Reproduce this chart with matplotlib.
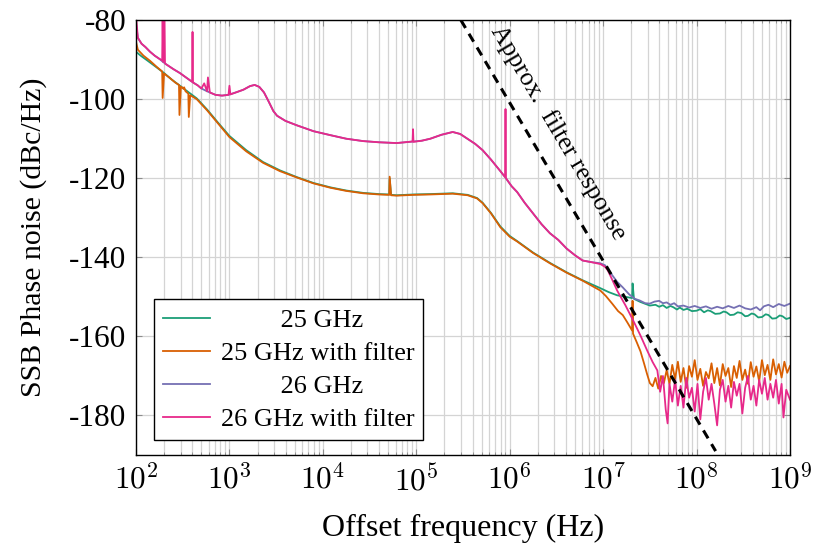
import numpy as np
import matplotlib.pyplot as plt
from matplotlib.ticker import FixedLocator, LogLocator, NullFormatter

plt.rcParams['font.family'] = ['Liberation Serif', 'DejaVu Serif']
plt.rcParams['mathtext.fontset'] = 'cm'
plt.rcParams['axes.unicode_minus'] = False

# offset frequency given as log10(Hz), phase noise in dBc/Hz
f25_exp = [2.00, 2.05, 2.12, 2.20, 2.29, 2.38, 2.47, 2.56, 2.65, 2.76, 2.88, 3.00,
           3.18, 3.36, 3.54, 3.72, 3.90, 4.08, 4.25, 4.43, 4.60, 4.71, 4.715, 4.73,
           4.79, 4.97, 5.15, 5.39, 5.55, 5.65, 5.71, 5.80, 5.90, 6.00, 6.08, 6.25,
           6.43, 6.61, 6.78, 6.97, 7.06, 7.15, 7.31, 7.315, 7.33, 7.40, 7.50, 7.56,
           7.60, 7.64, 7.68, 7.72, 7.75, 7.79, 7.82, 7.86, 7.90, 7.95, 8.00, 8.04,
           8.08, 8.12, 8.15, 8.20, 8.25, 8.29, 8.32, 8.36, 8.40, 8.44, 8.48, 8.52,
           8.55, 8.59, 8.62, 8.66, 8.70, 8.74, 8.77, 8.81, 8.85, 8.89, 8.92, 8.96, 9.00]
pn25 = [-88.0, -89.0, -90.2, -91.6, -93.2, -95.0, -96.6, -98.2, -99.8, -102.6, -106.0, -109.3,
        -112.9, -115.9, -118.0, -119.7, -121.2, -122.3, -123.1, -123.7, -124.0, -124.1, -120.0, -124.2,
        -124.3, -124.1, -124.0, -123.8, -124.2, -125.0, -126.2, -128.8, -132.2, -134.6, -135.9, -138.8,
        -141.4, -143.8, -145.8, -147.8, -148.8, -149.6, -150.3, -146.6, -150.5, -151.3, -152.2, -152.0,
        -152.5, -152.1, -152.8, -152.3, -152.6, -153.2, -152.7, -153.3, -153.0, -153.6, -153.5, -153.1,
        -153.9, -153.4, -153.6, -154.3, -154.2, -153.7, -153.9, -154.6, -154.5, -153.9, -154.1, -154.9,
        -154.8, -154.2, -154.4, -155.2, -155.1, -154.4, -154.6, -155.5, -155.4, -154.7, -154.9, -155.6, -155.3]

f25f_exp = [2.00, 2.02, 2.08, 2.15, 2.22, 2.28, 2.285, 2.30, 2.36, 2.42, 2.46, 2.465, 2.48,
            2.51, 2.515, 2.53, 2.56, 2.565, 2.58, 2.65, 2.76, 2.88, 3.00, 3.18, 3.36, 3.54,
            3.72, 3.90, 4.08, 4.25, 4.43, 4.60, 4.71, 4.715, 4.73, 4.79, 4.97, 5.15, 5.39,
            5.55, 5.65, 5.71, 5.80, 5.90, 6.00, 6.08, 6.25, 6.43, 6.61, 6.78, 6.97, 7.03,
            7.10, 7.16, 7.21, 7.26, 7.31, 7.315, 7.32, 7.36, 7.40, 7.44, 7.47, 7.50, 7.53,
            7.56, 7.59, 7.62, 7.65, 7.68, 7.71, 7.74, 7.77, 7.80, 7.83, 7.86, 7.89, 7.92,
            7.95, 7.98, 8.01, 8.04, 8.07, 8.10, 8.13, 8.16, 8.19, 8.22, 8.25, 8.28, 8.31,
            8.34, 8.37, 8.40, 8.43, 8.46, 8.49, 8.52, 8.55, 8.58, 8.61, 8.64, 8.67, 8.70,
            8.73, 8.76, 8.79, 8.82, 8.85, 8.88, 8.91, 8.94, 8.97, 9.00]
pn25f = [-85.5, -87.5, -89.0, -90.3, -91.8, -93.0, -99.7, -93.5, -94.6, -95.8, -96.4, -104.0, -96.8,
         -97.4, -97.0, -98.0, -98.6, -104.5, -99.0, -100.0, -102.8, -106.2, -109.6, -113.2, -116.1, -118.2,
         -119.8, -121.3, -122.4, -123.2, -123.8, -124.1, -124.2, -119.6, -124.3, -124.4, -124.2, -124.1, -123.9,
         -124.3, -125.1, -126.3, -128.9, -132.4, -134.8, -136.0, -138.9, -141.5, -143.9, -145.9, -148.4, -149.8,
         -151.8, -153.6, -154.6, -156.5, -158.5, -151.0, -159.3, -161.5, -163.8, -167.0, -169.5, -171.8, -172.6,
         -170.5, -173.2, -170.0, -171.8, -168.5, -172.0, -167.2, -170.8, -166.4, -171.5, -168.0, -173.0, -167.5,
         -170.2, -166.0, -171.0, -168.2, -172.5, -169.0, -170.6, -166.8, -171.8, -168.0, -172.4, -167.0, -170.0,
         -168.0, -172.8, -167.5, -170.5, -166.2, -171.0, -168.4, -172.0, -166.5, -170.2, -167.6, -171.4, -166.0,
         -169.8, -167.2, -171.0, -165.8, -169.6, -167.0, -170.4, -166.4, -169.2, -167.5]

f26_exp = [2.00, 2.02, 2.06, 2.10, 2.15, 2.20, 2.25, 2.29, 2.33, 2.40, 2.47, 2.54, 2.60,
           2.66, 2.70, 2.76, 2.85, 2.92, 2.99, 3.08, 3.15, 3.22, 3.27, 3.32, 3.37, 3.42,
           3.47, 3.51, 3.60, 3.72, 3.90, 4.08, 4.25, 4.43, 4.60, 4.79, 4.97, 5.06, 5.15,
           5.27, 5.39, 5.47, 5.54, 5.63, 5.71, 5.80, 5.90, 5.95, 6.02, 6.08, 6.16, 6.25,
           6.34, 6.43, 6.52, 6.61, 6.70, 6.78, 6.87, 6.97, 7.02, 7.05, 7.10, 7.15, 7.21,
           7.28, 7.34, 7.39, 7.45, 7.50, 7.55, 7.60, 7.64, 7.68, 7.72, 7.76, 7.80, 7.86,
           7.92, 7.98, 8.04, 8.10, 8.16, 8.22, 8.28, 8.34, 8.40, 8.46, 8.52, 8.58, 8.64,
           8.68, 8.72, 8.77, 8.82, 8.88, 8.94, 9.00]
pn26 = [-81.0, -84.5, -86.0, -86.8, -88.0, -89.0, -89.8, -90.6, -91.3, -92.4, -93.4, -94.6, -95.6,
        -96.5, -97.3, -98.0, -98.9, -99.1, -98.9, -98.2, -97.6, -96.7, -96.4, -96.9, -98.3, -100.6,
        -103.0, -104.2, -105.5, -106.6, -108.1, -109.1, -110.0, -110.6, -110.9, -111.1, -110.7, -110.5, -110.0,
        -109.0, -108.3, -108.8, -109.9, -111.3, -112.9, -115.3, -118.2, -119.7, -122.0, -123.5, -126.2, -128.9,
        -131.6, -133.9, -135.6, -137.8, -139.5, -140.8, -141.2, -141.5, -142.0, -143.0, -144.6, -146.2, -147.6,
        -149.4, -150.5, -150.9, -151.6, -151.7, -151.2, -151.0, -151.6, -151.4, -152.0, -151.6, -152.4, -152.2,
        -152.7, -152.3, -152.8, -152.4, -153.0, -152.5, -152.9, -152.3, -152.8, -152.2, -152.9, -153.2, -152.6,
        -153.4, -152.4, -152.0, -152.6, -151.8, -152.3, -151.7]

f26f_exp = [2.00, 2.02, 2.06, 2.10, 2.15, 2.20, 2.25, 2.28, 2.285, 2.29, 2.305, 2.31, 2.33,
            2.40, 2.47, 2.54, 2.60, 2.605, 2.61, 2.66, 2.70, 2.73, 2.76, 2.77, 2.79, 2.85,
            2.92, 2.99, 3.00, 3.01, 3.08, 3.15, 3.22, 3.27, 3.32, 3.37, 3.42, 3.47, 3.51,
            3.60, 3.72, 3.90, 4.08, 4.25, 4.43, 4.60, 4.79, 4.96, 4.965, 4.97, 5.06, 5.15,
            5.27, 5.39, 5.47, 5.54, 5.63, 5.71, 5.80, 5.90, 5.95, 5.955, 5.96, 6.02, 6.08,
            6.16, 6.25, 6.34, 6.43, 6.52, 6.61, 6.70, 6.78, 6.87, 6.97, 7.02, 7.05, 7.10,
            7.15, 7.24, 7.32, 7.40, 7.47, 7.53, 7.58, 7.61, 7.64, 7.67, 7.69, 7.71, 7.74,
            7.77, 7.80, 7.83, 7.86, 7.89, 7.92, 7.95, 7.98, 8.01, 8.04, 8.07, 8.10, 8.13,
            8.16, 8.19, 8.22, 8.25, 8.28, 8.31, 8.34, 8.37, 8.40, 8.43, 8.46, 8.49, 8.52,
            8.55, 8.58, 8.61, 8.64, 8.67, 8.70, 8.73, 8.76, 8.79, 8.82, 8.85, 8.88, 8.91,
            8.93, 8.96, 9.00]
pn26f = [-79.0, -84.5, -86.0, -86.8, -88.0, -89.0, -89.8, -90.2, -79.0, -90.6, -79.0, -91.0, -91.3,
         -92.4, -93.4, -94.6, -95.6, -83.0, -95.8, -96.5, -97.3, -96.0, -98.0, -94.5, -98.3, -98.9,
         -99.1, -98.9, -96.6, -98.8, -98.2, -97.6, -96.7, -96.4, -96.9, -98.3, -100.6, -103.0, -104.2,
         -105.5, -106.6, -108.1, -109.1, -110.0, -110.6, -110.9, -111.1, -110.7, -107.6, -110.8, -110.5, -110.0,
         -109.0, -108.3, -108.8, -109.9, -111.3, -112.9, -115.3, -118.2, -119.7, -102.5, -120.0, -122.0, -123.5,
         -126.2, -128.9, -131.6, -133.9, -135.6, -137.8, -139.5, -140.8, -141.2, -141.7, -142.4, -143.3, -145.8,
         -148.4, -152.2, -155.9, -159.8, -163.5, -166.5, -168.6, -174.0, -170.0, -178.5, -182.0, -172.0, -176.5,
         -171.0, -177.5, -172.5, -178.0, -170.5, -175.5, -173.0, -179.0, -172.0, -181.0, -174.0, -170.5, -176.0,
         -172.0, -177.0, -182.5, -173.5, -171.0, -176.5, -172.5, -178.0, -171.5, -175.0, -172.0, -179.5, -173.0,
         -170.0, -176.0, -172.5, -177.5, -171.0, -174.5, -170.5, -176.0, -172.0, -175.5, -171.0, -177.0, -172.0,
         -180.5, -173.5, -176.0]

filter_f = [3.0e5, 1.6e8]
filter_pn = [-80, -189]

yticks = [-180, -160, -140, -120, -100, -80]
colors = ['#1b9e77', '#d95f02', '#7570b3', '#e7298a']

fig = plt.figure(figsize=(8.13, 5.43), dpi=100)
ax = fig.add_axes([0.1673, 0.162, 0.8044, 0.801])

ax.plot(10.0 ** np.array(f25_exp), pn25, color=colors[0], lw=1.3, label='         25 GHz')
ax.plot(10.0 ** np.array(f25f_exp), pn25f, color=colors[1], lw=1.3, label='25 GHz with filter')
ax.plot(10.0 ** np.array(f26_exp), pn26, color=colors[2], lw=1.3, label='         26 GHz')
ax.plot(10.0 ** np.array(f26f_exp), pn26f, color=colors[3], lw=1.3, label='26 GHz with filter')
ax.plot(filter_f, filter_pn, color='black', lw=2.2, ls=(0, (3, 2.2)))

ax.text(3.3e6, -108.5, 'Approx.  filter response', rotation=-59.4,
        rotation_mode='anchor', ha='center', va='center', fontsize=18.5)

ax.set_xscale('log')
ax.set_xlim(1e2, 1e9)
ax.set_ylim(-190, -80)
ax.xaxis.set_major_locator(FixedLocator([10.0 ** k for k in range(2, 10)]))
ax.xaxis.set_minor_locator(LogLocator(base=10, subs=np.arange(2, 10), numticks=20))
ax.xaxis.set_minor_formatter(NullFormatter())
ax.set_xticks([10.0 ** k for k in range(2, 10)])
ax.set_xticklabels([r'$10^{%d}$' % k for k in range(2, 10)])
ax.set_yticks(yticks)
ax.set_yticklabels(['%d' % v for v in yticks])

ax.grid(True, which='major', color='#d4d4d4', lw=0.9)
ax.grid(True, which='minor', color='#d4d4d4', lw=0.9)
ax.set_axisbelow(True)
ax.tick_params(which='both', direction='in', top=True, right=True, color='#8c8c8c')
ax.tick_params(which='major', length=4.5, labelsize=22.5, pad=7)
ax.tick_params(which='minor', length=2.5)
for s in ax.spines.values():
    s.set_linewidth(1.0)

ax.set_xlabel('Offset frequency (Hz)', fontsize=23, labelpad=12)
ax.set_ylabel('SSB Phase noise (dBc/Hz)', fontsize=21.5, labelpad=16)

leg = ax.legend(loc='lower left', bbox_to_anchor=(0.027, 0.034), borderaxespad=0,
                fontsize=18.9, fancybox=False, framealpha=1, edgecolor='black',
                handlelength=1.8, handletextpad=0.4, labelspacing=0.37, borderpad=0.35)
leg.get_frame().set_linewidth(1.0)

fig.savefig('out.png', dpi=100)
